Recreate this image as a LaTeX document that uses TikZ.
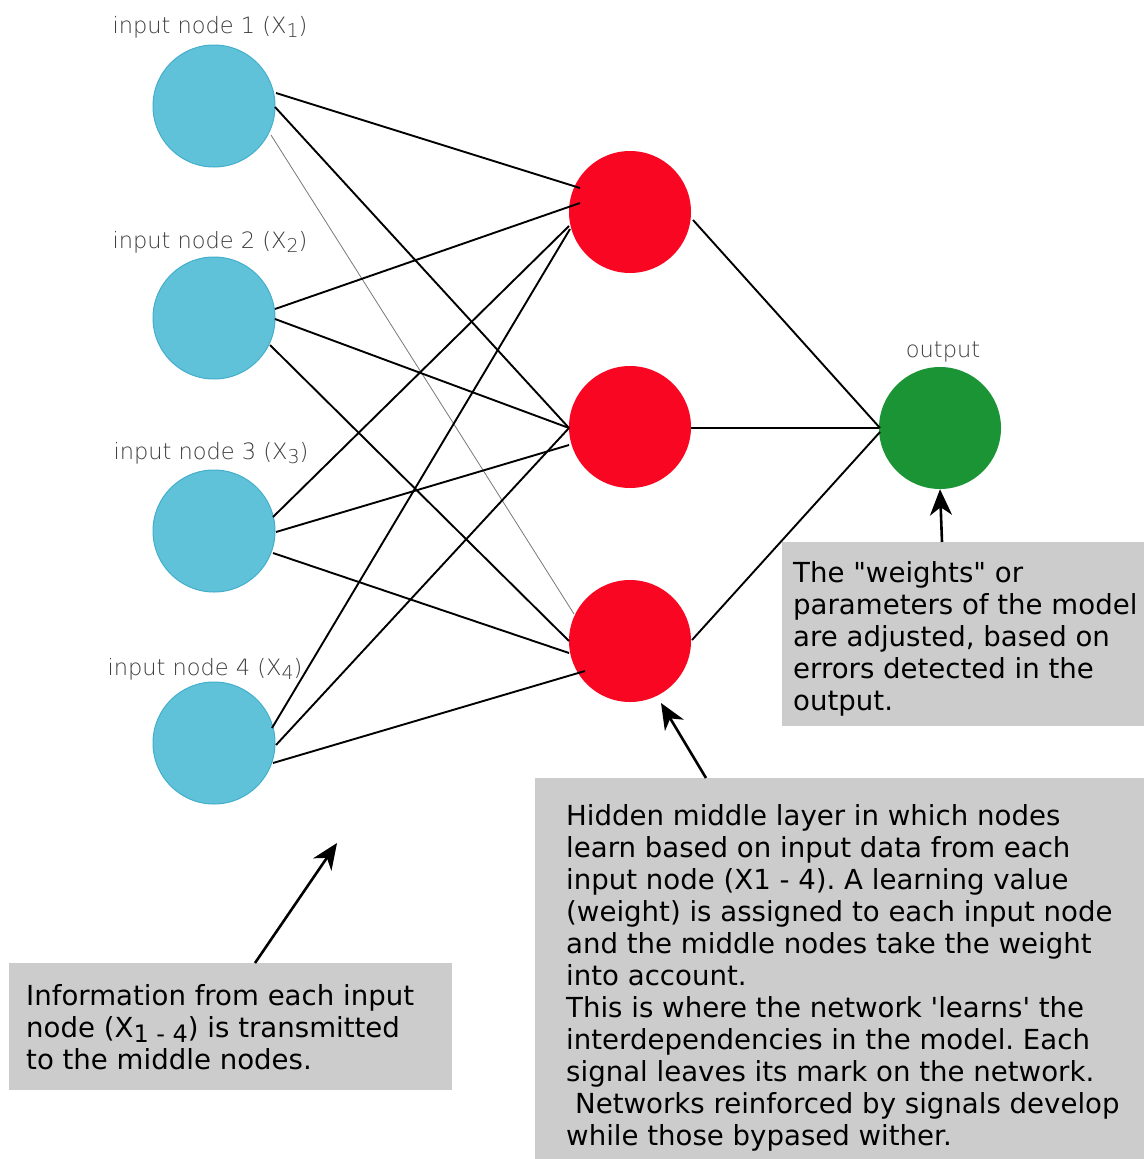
\documentclass[tikz,border=0pt]{standalone}
\usepackage{fontspec}
\setmainfont{DejaVu Sans}[Ligatures=TeXOff]
\IfFontExistsTF{DejaVu Sans ExtraLight}{\newfontfamily\lblfont{DejaVu Sans ExtraLight}}{\newfontfamily\lblfont{DejaVu Sans}}
\usetikzlibrary{calc,arrows.meta}
\frenchspacing
\definecolor{incol}{RGB}{96,194,216}
\definecolor{inborder}{RGB}{66,174,204}
\definecolor{hidcol}{RGB}{248,6,34}
\definecolor{outcol}{RGB}{26,148,52}
\definecolor{boxgray}{RGB}{204,204,204}
\definecolor{lblgray}{RGB}{60,60,60}
\definecolor{thingray}{RGB}{120,120,120}
\newcommand{\lsub}[1]{\raisebox{-4pt}{\fontsize{19}{19}\selectfont #1}}
\newcommand{\bsub}[1]{\raisebox{-5pt}{\fontsize{24}{24}\selectfont #1}}
\begin{document}
\begin{tikzpicture}[x=1pt,y=-1pt,
  innode/.style={circle,fill=incol,draw=inborder,line width=1pt,minimum size=122pt,inner sep=0pt},
  hidnode/.style={circle,fill=hidcol,minimum size=122pt,inner sep=0pt},
  outnode/.style={circle,fill=outcol,minimum size=122pt,inner sep=0pt},
  link/.style={black,line width=1.9pt},
  thinlink/.style={thingray,line width=0.8pt},
  lbl/.style={font=\lblfont\fontsize{22.5}{26}\selectfont,text=lblgray,inner sep=0pt,anchor=base},
  callbox/.style={fill=boxgray,anchor=north west,inner sep=0pt},
  calltext/.style={font=\fontsize{27.6}{32}\selectfont\frenchspacing,align=left,anchor=north west,inner sep=0pt},
  callarrow/.style={line width=2.6pt,-{Stealth[length=26pt,width=22pt,inset=8pt]}}
]
\useasboundingbox (0,0) rectangle (1144,1159);

% boxes
\node[callbox,minimum width=362pt,minimum height=184pt] (b1) at (782,542) {};
\node[callbox,minimum width=609pt,minimum height=381pt] (b2) at (535,778) {};
\node[callbox,minimum width=443pt,minimum height=127pt] (b3) at (9,963) {};

% neurons
\node[innode] (i1) at (214,106) {};
\node[innode] (i2) at (214,318) {};
\node[innode] (i3) at (214,531) {};
\node[innode] (i4) at (214,743) {};
\node[hidnode] (r1) at (630,212) {};
\node[hidnode] (r2) at (630,427) {};
\node[hidnode] (r3) at (630,641) {};
\node[outnode] (o) at (940,428) {};

% labels
\node[lbl] (l1) at (210,33) {input node 1 (X\lsub{1})};
\node[lbl] (l2) at (210,248) {input node 2 (X\lsub{2})};
\node[lbl] (l3) at (211,459) {input node 3 (X\lsub{3})};
\node[lbl] (l4) at (205,675) {input node 4 (X\lsub{4})};
\node[lbl] (lo) at (943,357) {output};

% connections
\draw[link] ($(i1)+(62,-13)$) -- ($(r1)+(-50,-24)$);
\draw[link] ($(i1)+(61,1)$) -- ($(r2)+(-61,1)$);
\draw[thinlink] ($(i1)+(57,29)$) -- ($(r3)+(-56,-27)$);
\draw[link] ($(i2)+(61,-9)$) -- ($(r1)+(-50,-9)$);
\draw[link] ($(i2)+(61,1)$) -- ($(r2)+(-61,1)$);
\draw[link] ($(i2)+(56,27)$) -- ($(r3)+(-61,0)$);
\draw[link] ($(i3)+(59,-14)$) -- ($(r1)+(-61,14)$);
\draw[link] ($(i3)+(62,1)$) -- ($(r2)+(-61,18)$);
\draw[link] ($(i3)+(59,22)$) -- ($(r3)+(-61,12)$);
\draw[link] ($(i4)+(58,-15)$) -- ($(r1)+(-60,17)$);
\draw[link] ($(i4)+(62,2)$) -- ($(r2)+(-61,1)$);
\draw[link] ($(i4)+(59,20)$) -- ($(r3)+(-45,30)$);
\draw[link] ($(r1)+(63,8)$) -- ($(o)+(-60,0)$);
\draw[link] ($(r2)+(61,1)$) -- ($(o)+(-61,0)$);
\draw[link] ($(r3)+(62,-1)$) -- ($(o)+(-60,4)$);

% callout texts
\node[calltext] (t1) at ($(b1.north west)+(11,19)$) {\rule{0pt}{21pt}The "weights" or\\
parameters of the model\\
are adjusted, based on\\
errors detected in the\\
output.};
\node[calltext] (t2) at ($(b2.north west)+(31,26)$) {\rule{0pt}{21pt}Hidden middle layer in which nodes\\
learn based on input data from each\\
input node (X1 - 4). A learning value\\
(weight) is assigned to each input node\\
and the middle nodes take the weight\\
into account.\\
This is where the network 'learns' the\\
interdependencies in the model. Each\\
signal leaves its mark on the network.\\
\hspace*{9pt}Networks reinforced by signals develop\\
while those bypased wither.};
\node[calltext] (t3) at ($(b3.north west)+(17,21)$) {\rule{0pt}{21pt}Information from each input\\
node (X\bsub{1 - 4}) is transmitted\\
to the middle nodes.};

% arrows
\coordinate (a3tip) at (337,843);
\draw[callarrow] ($(b1.north west)+(160,0)$) -- (o.south);
\draw[callarrow] ($(b2.north west)+(171,0)$) -- ($(r3)+(31,62)$);
\draw[callarrow] ($(b3.north west)+(246,0)$) -- (a3tip);
\end{tikzpicture}
\end{document}
